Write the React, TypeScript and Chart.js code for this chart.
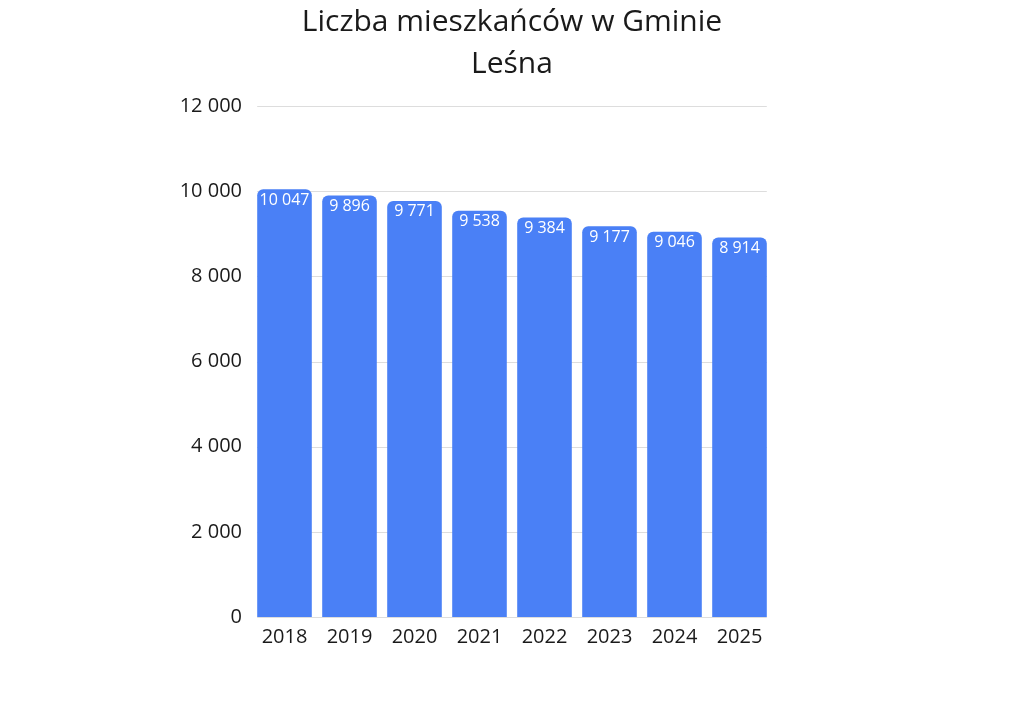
import { useEffect, useRef } from 'react'
import { Chart, registerables, type Plugin } from 'chart.js'

Chart.register(...registerables)

const YEARS = ['2018', '2019', '2020', '2021', '2022', '2023', '2024', '2025']
const RESIDENTS = [10047, 9896, 9771, 9538, 9384, 9177, 9046, 8914]
const TITLE = ['Liczba mieszkańców w Gminie', 'Leśna']

const FONT = "'Open Sans', sans-serif"
const BAR_BLUE = '#4a80f6'
const INK = '#1a1a1a'
const GRID = '#dddddd'

const fmt = (v: number) => String(Math.round(v)).replace(/\B(?=(\d{3})+(?!\d))/g, ' ')

// white value label near the top of each bar
const barLabels: Plugin<'bar'> = {
  id: 'barLabels',
  afterDatasetsDraw(chart) {
    const { ctx } = chart
    const meta = chart.getDatasetMeta(0)
    ctx.save()
    ctx.font = `16px ${FONT}`
    ctx.fillStyle = '#ffffff'
    ctx.textAlign = 'center'
    ctx.textBaseline = 'middle'
    meta.data.forEach((bar, i) => {
      const { x, y } = bar.getProps(['x', 'y'], true)
      ctx.fillText(fmt(RESIDENTS[i]), x, y + 11)
    })
    ctx.restore()
  },
}

// horizontal grid only spans from first bar edge to last bar edge
const shortGrid: Plugin<'bar'> = {
  id: 'shortGrid',
  beforeDatasetsDraw(chart) {
    const { ctx } = chart
    const bars = chart.getDatasetMeta(0).data
    if (!bars.length) return
    const first = bars[0].getProps(['x', 'width'], true)
    const last = bars[bars.length - 1].getProps(['x', 'width'], true)
    const x0 = first.x - first.width / 2
    const x1 = last.x + last.width / 2
    const yScale = chart.scales.y
    ctx.save()
    ctx.strokeStyle = GRID
    ctx.lineWidth = 1
    yScale.ticks.forEach((t) => {
      const y = Math.round(yScale.getPixelForValue(t.value)) + 0.5
      ctx.beginPath()
      ctx.moveTo(x0, y)
      ctx.lineTo(x1, y)
      ctx.stroke()
    })
    ctx.restore()
  },
}

// title centred on the whole canvas, not just the plot
const pageTitle: Plugin<'bar'> = {
  id: 'pageTitle',
  afterDraw(chart) {
    const { ctx } = chart
    ctx.save()
    ctx.font = `30px ${FONT}`
    ctx.fillStyle = INK
    ctx.textAlign = 'center'
    ctx.textBaseline = 'middle'
    TITLE.forEach((line, i) => ctx.fillText(line, chart.width / 2, 22 + i * 42))
    ctx.restore()
  },
}

export default function App() {
  const canvasRef = useRef<HTMLCanvasElement>(null)
  const chartRef = useRef<Chart | null>(null)

  useEffect(() => {
    document.body.style.margin = '0'
    if (!canvasRef.current) return
    chartRef.current?.destroy()
    chartRef.current = new Chart(canvasRef.current, {
      type: 'bar',
      data: {
        labels: YEARS,
        datasets: [
          {
            data: RESIDENTS,
            backgroundColor: BAR_BLUE,
            borderRadius: 6,
            borderSkipped: 'start',
            barPercentage: 0.84,
            categoryPercentage: 1,
          },
        ],
      },
      options: {
        animation: false,
        responsive: true,
        maintainAspectRatio: false,
        layout: { padding: { left: 0, right: 252, top: 106, bottom: 75 } },
        plugins: {
          legend: { display: false },
          tooltip: { enabled: false },
          title: { display: false },
        },
        scales: {
          x: {
            grid: { display: false },
            border: { display: false },
            ticks: { color: INK, font: { family: FONT, size: 20 }, padding: 0 },
          },
          y: {
            min: 0,
            max: 12000,
            afterFit: (s) => {
              s.width = 252
            },
            ticks: {
              stepSize: 2000,
              color: INK,
              padding: 2,
              font: { family: FONT, size: 20 },
              callback: (v) => fmt(Number(v)),
            },
            grid: { display: false },
            border: { display: false },
          },
        },
      },
      plugins: [shortGrid, barLabels, pageTitle],
    })
    return () => {
      chartRef.current?.destroy()
      chartRef.current = null
    }
  }, [])

  return (
    <div style={{ width: 1024, height: 724, position: 'relative' }}>
      <canvas ref={canvasRef} />
    </div>
  )
}
